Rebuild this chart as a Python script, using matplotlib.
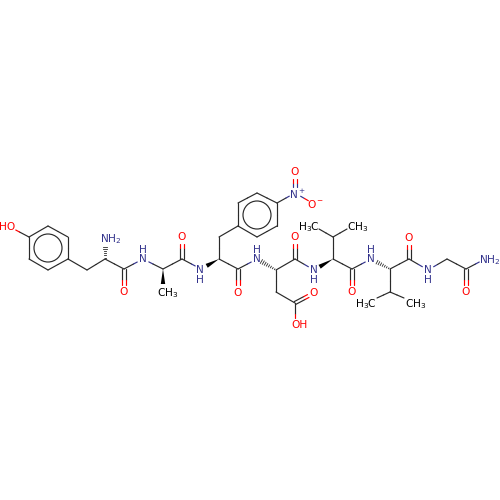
#!/usr/bin/env python3

import numpy as np
import matplotlib
matplotlib.use("Agg")
import matplotlib.pyplot as plt
from matplotlib.patches import Circle, Polygon

# atom positions, in image pixels
atom_x = [29, 48, 68, 68, 48, 29, 10, 87, 105, 105, 124, 124, 143, 163, 163, 182, 182, 201,
          219, 238, 238, 219, 238, 238, 257, 277, 277, 257, 295, 295, 314, 257, 276, 295, 295,
          276, 295, 314, 295, 314, 333, 333, 319, 347, 352, 352, 371, 390, 390, 377, 404, 409,
          409, 428, 447, 466, 466, 485]
atom_y = [237, 226, 237, 259, 270, 259, 227, 270, 259, 241, 269, 291, 259, 269, 290, 259, 237, 269,
          259, 269, 291, 237, 226, 203, 193, 203, 226, 237, 193, 172, 204, 259, 270, 259, 237,
          292, 303, 293, 324, 270, 259, 237, 229, 229, 269, 291, 259, 269, 292, 298, 298, 259,
          238, 270, 259, 269, 291, 259]
atom_kind = ["C", "C", "C", "C", "C", "C", "O", "C", "C", "N", "C", "O", "N", "C", "C", "C", "O", "N",
             "C", "C", "O", "C", "C", "C", "C", "C", "C", "C", "N", "O", "O", "N", "C", "C", "O",
             "C", "C", "O", "O", "N", "C", "C", "C", "C", "C", "O", "N", "C", "C", "C", "C", "C",
             "O", "N", "C", "C", "O", "N"]

single_bonds = [(0, 1), (1, 2), (2, 3), (3, 4), (4, 5), (5, 0), (0, 6), (3, 7), (7, 8), (8, 10),
                (10, 12), (12, 13), (13, 15), (15, 17), (18, 19), (18, 21), (21, 22),
                (22, 23), (23, 24), (24, 25), (25, 26), (26, 27), (27, 22), (25, 28), (28, 30),
                (19, 31), (32, 33), (32, 35), (35, 36), (36, 38), (33, 39), (40, 41), (41, 42),
                (41, 43), (40, 44), (44, 46), (47, 48), (48, 49), (48, 50), (47, 51), (51, 53),
                (53, 54), (54, 55), (55, 57)]
double_bonds = [(10, 11), (15, 16), (19, 20), (28, 29), (33, 34), (36, 37), (44, 45), (51, 52),
                (55, 56)]
wedge_bonds = [(13, 14), (18, 17), (40, 39)]
hash_bonds = [(8, 9), (32, 31), (47, 46)]
ring_centers = [(48, 248), (257, 215)]

BLUE = "#33338c"
RED = "#ff0000"
BLACK = "#000000"

# label text with the point it is centred on
label_text = ["HO", "NH$_2$", "O", "N", "H", "CH$_3$", "O", "N", "H", "O", "N$^+$", "O", "O$^-$",
              "N", "H", "O", "N", "H", "O", "OH", "H$_3$C", "CH$_3$", "N", "H", "O", "H$_3$C",
              "CH$_3$", "N", "H", "O", "O", "NH$_2$"]
label_x = [7, 111, 124, 143, 143, 168, 182, 200, 200, 238, 297, 295, 316,
           257, 257, 295, 314, 314, 314, 299, 309, 358, 371, 371, 352, 366,
           416, 428, 428, 409, 466, 490]
label_y = [227, 239, 292, 259, 250, 293, 237, 270, 280, 293, 194, 172, 204,
           259, 250, 237, 270, 280, 293, 325, 227, 227, 259, 250, 292, 304,
           304, 270, 280, 238, 292, 260]
label_color = [RED, BLUE, RED, BLUE, BLUE, BLACK, RED, BLUE, BLUE, RED, BLUE, RED, RED,
               BLUE, BLUE, RED, BLUE, BLUE, RED, RED, BLACK, BLACK, BLUE, BLUE, RED, BLACK,
               BLACK, BLUE, BLUE, RED, RED, BLUE]

bond_color = {"C": "#2a2a2a", "N": BLUE, "O": RED}
GAP = {"C": 0.0, "N": 6.5, "O": 6.5}


def half_bond(ax, p, q, kp, kq):
    # two-tone bond, clipped back where an atom carries a label
    p, q = np.array(p, float), np.array(q, float)
    length = np.hypot(*(q - p))
    u = (q - p) / length
    a = p + u * GAP[kp]
    b = q - u * GAP[kq]
    m = (p + q) / 2
    ax.plot([a[0], m[0]], [a[1], m[1]], color=bond_color[kp], lw=0.85, solid_capstyle="round")
    ax.plot([m[0], b[0]], [m[1], b[1]], color=bond_color[kq], lw=0.85, solid_capstyle="round")


fig = plt.figure(figsize=(5, 5), dpi=100)
ax = fig.add_axes([0, 0, 1, 1])
ax.set_xlim(0, 500)
ax.set_ylim(500, 0)
ax.axis("off")

pts = list(zip(atom_x, atom_y))

for i, j in single_bonds:
    half_bond(ax, pts[i], pts[j], atom_kind[i], atom_kind[j])

for i, j in double_bonds:
    p, q = np.array(pts[i], float), np.array(pts[j], float)
    u = (q - p) / np.hypot(*(q - p))
    n = np.array([-u[1], u[0]]) * 1.6
    half_bond(ax, p + n, q + n, atom_kind[i], atom_kind[j])
    half_bond(ax, p - n, q - n, atom_kind[i], atom_kind[j])

for i, j in wedge_bonds:
    p, q = np.array(pts[i], float), np.array(pts[j], float)
    u = (q - p) / np.hypot(*(q - p))
    n = np.array([-u[1], u[0]]) * 2.2
    q = q - u * GAP[atom_kind[j]]
    if atom_kind[j] == "C":
        q = q - u * 6
    ax.add_patch(Polygon([p, q + n, q - n], closed=True, fc="black", ec="none"))

for i, j in hash_bonds:
    p, q = np.array(pts[i], float), np.array(pts[j], float)
    length = np.hypot(*(q - p))
    u = (q - p) / length
    n = np.array([-u[1], u[0]])
    for t in np.arange(1.5, length - 5, 2.2):
        c = p + u * t
        w = 0.3 + 2.4 * t / length
        ax.plot([c[0] - n[0] * w, c[0] + n[0] * w], [c[1] - n[1] * w, c[1] + n[1] * w],
                color="#2a2a2a", lw=0.6)

for cx, cy in ring_centers:
    ax.add_patch(Circle((cx, cy), 14, fc="none", ec="#2a2a2a", lw=0.85))

for x, y, s, c in zip(label_x, label_y, label_text, label_color):
    ax.text(x, y, s, color=c, fontsize=7.6, ha="center", va="center", family="DejaVu Sans",
            math_fontfamily="dejavusans")

fig.savefig("out.png", dpi=100)
plt.close()
